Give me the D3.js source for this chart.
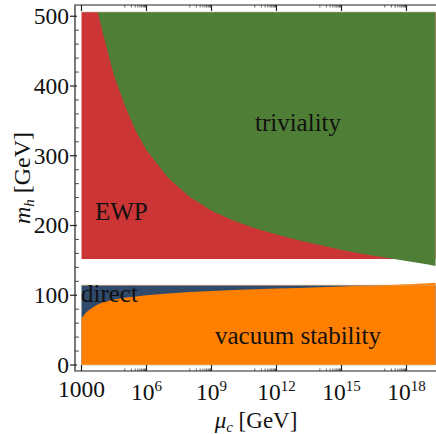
<!DOCTYPE html>
<html>
<head>
<meta charset="utf-8">
<script src="https://cdn.jsdelivr.net/npm/d3@7"></script>
<style>
  body { margin: 0; background: #fff; }
</style>
</head>
<body>
<svg id="chart" width="436" height="434"></svg>
<script>
// tick values
const xTickExp = [3, 6, 9, 12, 15, 18];
const yTicks = [0, 100, 200, 300, 400, 500];

// triviality bound (upper limit on m_h vs log10 of cutoff)
const trivLog = [3.75, 4, 4.5, 5, 5.5, 6, 7, 8, 9, 10, 11, 12, 13, 14, 15, 16, 17, 18, 19, 19.34];
const trivMh = [506, 474, 415, 372, 336, 308, 268, 241, 221, 207, 196, 187, 179, 172, 165, 159, 154, 149, 144, 142];

// vacuum stability bound (lower limit)
const stabLog = [3, 3.2, 3.4, 3.7, 4, 4.5, 5, 6, 7, 8, 9, 10, 11, 12, 13, 14, 15, 16, 17, 18, 19, 19.34];
const stabMh = [67, 75, 80, 86, 90, 94, 96.5, 100, 102.5, 104.5, 106, 107.5, 108.5, 109.5, 110.5, 111.5, 112.5, 113.5, 114.5, 115.8, 117.3, 118];

// flat limits
const logRange = [3, 19.34];
const ewpLower = 152;
const directUpper = 114.4;
const mhTop = 506;

const FONT = "'Liberation Serif', 'Times New Roman', Times, 'DejaVu Serif', serif";

const svg = d3.select('#chart')
    .attr('font-family', FONT);

// scales
const xScale = d3.scaleLog()
    .domain([1e3, 1e18])
    .range([81.5, 406.5]);
const yScale = d3.scaleLinear()
    .domain([0, 500])
    .range([365, 16.25]);

const frame = { left: 75, right: 436, top: 5, bottom: 371 };

const band = (xs, lo, hi) => xs.map((l, i) => ({ x: Math.pow(10, l), lo: lo(i), hi: hi(i) }));
const area = d3.area()
    .x(d => xScale(d.x))
    .y0(d => yScale(d.lo))
    .y1(d => yScale(d.hi));

// EWP (red) block
svg.append('path')
    .datum(band(logRange, () => ewpLower, () => mhTop))
    .attr('d', area)
    .attr('fill', '#cc3535');

// triviality (green) above the curve
svg.append('path')
    .datum(band(trivLog, i => trivMh[i], () => mhTop))
    .attr('d', area)
    .attr('fill', '#4f7f36');

// direct search (navy)
svg.append('path')
    .datum(band(logRange, () => 0, () => directUpper))
    .attr('d', area)
    .attr('fill', '#2f4a6a');

// vacuum stability (orange)
svg.append('path')
    .datum(band(stabLog, () => 0, i => stabMh[i]))
    .attr('d', area)
    .attr('fill', '#ff8000');

// thin edges on the flat borders
const edge = (v, c) => svg.append('line')
    .attr('x1', xScale(1e3)).attr('x2', xScale(Math.pow(10, logRange[1])))
    .attr('y1', yScale(v)).attr('y2', yScale(v))
    .attr('stroke', c).attr('stroke-width', 1).attr('opacity', 0.6);
edge(mhTop, '#b8ab8e');
edge(directUpper, '#d8a878');
edge(0, '#d8b890');

// frame
const axisG = svg.append('g').attr('stroke', '#222').attr('stroke-width', 1.2).attr('fill', 'none');
axisG.append('path')
    .attr('d', `M${frame.right},${frame.top}H${frame.left}V${frame.bottom}H${frame.right}`);

// y ticks
yTicks.forEach(t => {
    const y = yScale(t);
    axisG.append('line').attr('x1', 70).attr('x2', 77).attr('y1', y).attr('y2', y);
});
d3.range(0, 520, 20).filter(t => t % 100 !== 0).forEach(t => {
    const y = yScale(t);
    axisG.append('line').attr('x1', frame.left).attr('x2', 79).attr('y1', y).attr('y2', y)
        .attr('stroke-width', 0.8);
});

// x ticks, top and bottom
xTickExp.forEach(e => {
    const x = xScale(Math.pow(10, e));
    axisG.append('line').attr('x1', x).attr('x2', x).attr('y1', frame.bottom).attr('y2', frame.bottom - 6);
    axisG.append('line').attr('x1', x).attr('x2', x).attr('y1', frame.top).attr('y2', frame.top + 6);
    if (e > 3) {
        for (let k = 1; k < 10; k++) {
            const xm = xScale(k * Math.pow(10, e - 1));
            axisG.append('line').attr('x1', xm).attr('x2', xm).attr('y1', frame.bottom).attr('y2', frame.bottom - 2.5)
                .attr('stroke-width', 0.7);
            axisG.append('line').attr('x1', xm).attr('x2', xm).attr('y1', frame.top).attr('y2', frame.top + 2.5)
                .attr('stroke-width', 0.7);
        }
    }
});

// y tick labels
svg.selectAll('.ylab')
    .data(yTicks)
    .enter()
    .append('text')
    .attr('class', 'ylab')
    .attr('x', 69)
    .attr('y', d => yScale(d))
    .attr('dy', '0.33em')
    .attr('text-anchor', 'end')
    .attr('font-size', 23.5)
    .attr('fill', '#111')
    .text(d => d);

// x tick labels
xTickExp.forEach(e => {
    const x = xScale(Math.pow(10, e));
    const t = svg.append('text')
        .attr('x', x)
        .attr('text-anchor', 'middle')
        .attr('font-size', 23.5)
        .attr('fill', '#111');
    if (e === 3) {
        t.attr('y', 397).text('1000');
    } else {
        t.attr('y', 400);
        t.append('tspan').text('10');
        t.append('tspan').attr('dy', -9).attr('font-size', 15).text(e);
    }
});

// axis titles
const xt = svg.append('text')
    .attr('x', 256)
    .attr('y', 428)
    .attr('text-anchor', 'middle')
    .attr('font-size', 23)
    .attr('fill', '#111');
xt.append('tspan').attr('font-style', 'italic').text('μ');
xt.append('tspan').attr('font-style', 'italic').attr('font-size', 15).attr('dy', 4).text('c');
xt.append('tspan').attr('dy', -4).text(' [GeV]');

const yt = svg.append('text')
    .attr('transform', 'translate(30,178) rotate(-90)')
    .attr('text-anchor', 'middle')
    .attr('font-size', 24)
    .attr('fill', '#111');
yt.append('tspan').attr('font-style', 'italic').text('m');
yt.append('tspan').attr('font-style', 'italic').attr('font-size', 15).attr('dy', 4).text('h');
yt.append('tspan').attr('dy', -4).text(' [GeV]');

// region labels
const label = (txt, x, y, anchor) => svg.append('text')
    .attr('x', x).attr('y', y)
    .attr('text-anchor', anchor)
    .attr('font-size', 25)
    .attr('fill', '#111')
    .text(txt);
label('triviality', 298, 131, 'middle');
label('EWP', 95, 220, 'start');
label('direct', 81, 302, 'start');
label('vacuum stability', 298, 344, 'middle');
</script>
</body>
</html>
